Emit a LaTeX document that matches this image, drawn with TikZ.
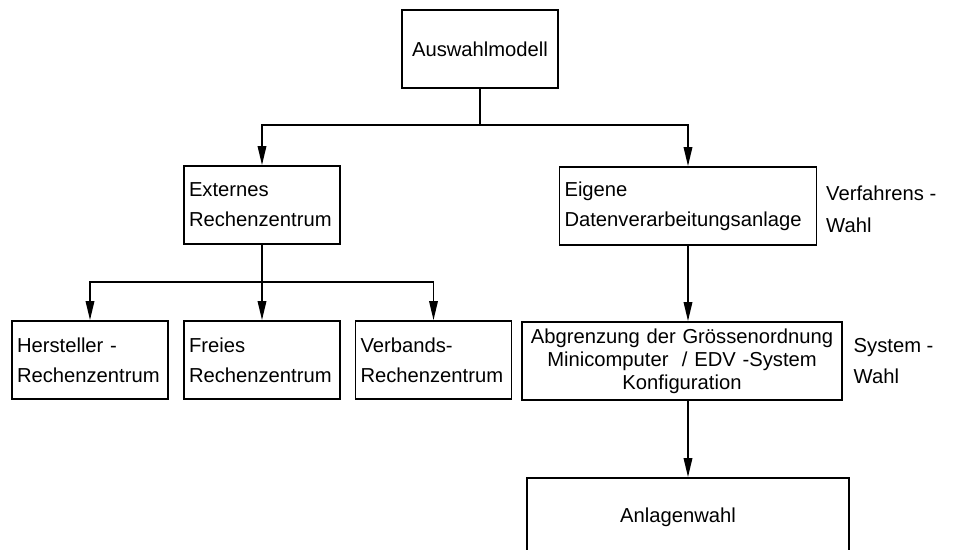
\documentclass[tikz,border=0pt]{standalone}
\usepackage{fontspec}
\setmainfont{Liberation Sans}
\usetikzlibrary{arrows.meta,positioning}

\begin{document}
\begin{tikzpicture}[x=0.02cm, y=-0.02cm, line width=1pt,
    every node/.style={font=\fontsize{11.5}{17}\selectfont},
    box/.style={draw, minimum height=1.56cm, inner xsep=0.1cm, align=left},
    side/.style={inner sep=0, align=left, font=\fontsize{11.5}{18}\selectfont},
    arr/.style={-{Triangle[length=3.8mm, width=1.7mm]}}]
  \useasboundingbox (0,0) rectangle (958,549);
  \clip (0,0) rectangle (958,549);

  % top level
  \node[box, minimum width=3.12cm, align=center] (top) at (480,49) {Auswahlmodell};

  % second level
  \node[box, text width=2.92cm] (ext) at (262,205) {Externes\\Rechenzentrum};
  \node[box, text width=4.94cm] (eig) at (688,206) {Eigene\\Datenverarbeitungsanlage};
  \node[side, right=0.16cm of eig, yshift=-0.06cm] (verf) {Verfahrens -\\Wahl};

  % third level
  \node[box, text width=2.92cm] (her) at (90,360) {Hersteller -\\Rechenzentrum};
  \node[box, text width=2.92cm] (fre) at (262,360) {Freies\\Rechenzentrum};
  \node[box, text width=2.92cm] (ver) at (433.5,360) {Verbands-\\Rechenzentrum};
  \node[box, text width=6.2cm, align=center, font=\fontsize{11.5}{13}\selectfont] (abg) at (682,361)
    {Abgrenzung der Grössenordnung\\Minicomputer \ / EDV -System\\Konfiguration};
  \node[side, right=0.2cm of abg] (sys) {System -\\Wahl};

  % bottom
  \node[box, minimum width=6.44cm, align=center] (anl) at (688,517) {Anlagenwahl\hspace*{0.4cm}};

  % connectors
  \coordinate (bus1) at (480,125);
  \draw (top.south) -- (bus1);
  \draw[arr] (bus1) -| (ext.north);
  \draw[arr] (bus1) -| (eig.north);

  \coordinate (bus2) at (262,282);
  \draw (ext.south) -- (bus2);
  \draw[arr] (bus2) -| (her.north);
  \draw[arr] (bus2) -- (fre.north);
  \draw[arr] (bus2) -| (ver.north);

  \draw[arr] (eig.south) -- (eig.south |- abg.north);
  \draw[arr] (eig.south |- abg.south) -- (eig.south |- anl.north);
\end{tikzpicture}
\end{document}
